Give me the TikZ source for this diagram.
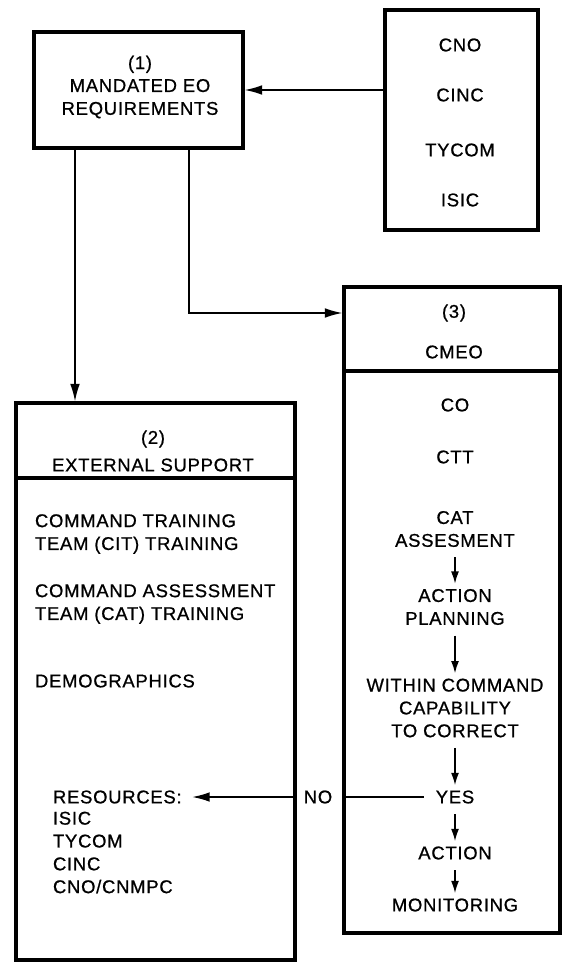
\documentclass[tikz,border=0pt]{standalone}
\usepackage{fontspec}
\setmainfont[LetterSpace=4,FakeBold=0.8]{Liberation Sans}
\usetikzlibrary{arrows.meta}

\begin{document}
\begin{tikzpicture}[x=0.02cm,y=-0.02cm,
    box/.style={draw, line width=1.8pt, inner sep=0pt},
    txt/.style={inner sep=0pt, outer sep=3pt, font=\fontsize{10.5}{13}\selectfont, align=center},
    ltxt/.style={txt, outer sep=0pt, anchor=west, align=left},
    link/.style={line width=0.9pt, -{Latex[length=10pt,width=5.5pt]}},
    flow/.style={line width=0.9pt, -{Latex[length=7pt,width=4.5pt]}, shorten <=3pt}]
    \useasboundingbox (0,0) rectangle (565,963);

    % Boxes
    \node[box, minimum width=4.18cm, minimum height=2.32cm] (mand) at (138.5,90) {};
    \node[box, minimum width=3.06cm, minimum height=4.4cm] (src) at (461.5,120) {};
    \node[box, minimum width=5.58cm, minimum height=11.14cm] (ext) at (155.5,681.5) {};
    \node[box, minimum width=4.32cm, minimum height=12.92cm] (cmeo) at (452,610) {};
    \draw[line width=1.8pt] (ext.west |- 0,478) -- (ext.east |- 0,478);
    \draw[line width=1.8pt] (cmeo.west |- 0,371) -- (cmeo.east |- 0,371);

    % Box 1
    \node[txt] (mandtxt) at (140,87) {(1)\\MANDATED EO\\REQUIREMENTS};

    % Sources
    \node[txt] (cno) at (460,45) {CNO};
    \node[txt] (cinc) at (460,95) {CINC};
    \node[txt] (tycom) at (460,150) {TYCOM};
    \node[txt] (isic) at (460,200) {ISIC};

    % Box 2
    \node[txt] (num2) at (153,439) {(2)};
    \node[txt] (exttxt) at (153,465) {EXTERNAL SUPPORT};
    \node[ltxt] (cttrain) at (35,534) {COMMAND TRAINING\\TEAM (CIT) TRAINING};
    \node[ltxt] (cattrain) at (35,604) {COMMAND ASSESSMENT\\TEAM (CAT) TRAINING};
    \node[ltxt] (demo) at (35,681) {DEMOGRAPHICS};
    \node[ltxt] (res) at (53,797) {RESOURCES:};
    \node[ltxt] (reslist) at (53,852.5) {ISIC\\TYCOM\\CINC\\CNO/CNMPC};

    % Box 3
    \node[txt] (num3) at (454,313) {(3)};
    \node[txt] (cmeotxt) at (454,352) {CMEO};
    \node[txt] (co) at (455,405) {CO};
    \node[txt] (ctt) at (455,457) {CTT};
    \node[txt] (cat) at (455,529) {CAT\\ASSESMENT};
    \node[txt] (plan) at (455,607) {ACTION\\PLANNING};
    \node[txt] (within) at (455,708) {WITHIN COMMAND\\CAPABILITY\\TO CORRECT};
    \node[txt] (yes) at (455,797) {YES};
    \node[txt] (act) at (455,853) {ACTION};
    \node[txt] (mon) at (455,905) {MONITORING};

    % Connectors
    \draw[link] (src.west |- mand.east) -- (mand.east);
    \draw[link] (75,0 |- mand.south) -- (75,0 |- ext.north);
    \draw[link] (189,0 |- mand.south) |- (cmeo.west |- num3);
    \draw[flow] (cat) -- (plan);
    \draw[flow] (plan) -- (within);
    \draw[flow] (within) -- (yes);
    \draw[flow] (yes) -- (act);
    \draw[flow] (act) -- (mon);
    \node[txt] (no) at (318,797) {NO};
    \draw[line width=0.9pt, shorten <=4pt] (yes.west) -- (cmeo.west |- yes.west);
    \draw[link, shorten >=6pt] (ext.east |- res.east) -- (res.east);
\end{tikzpicture}
\end{document}
